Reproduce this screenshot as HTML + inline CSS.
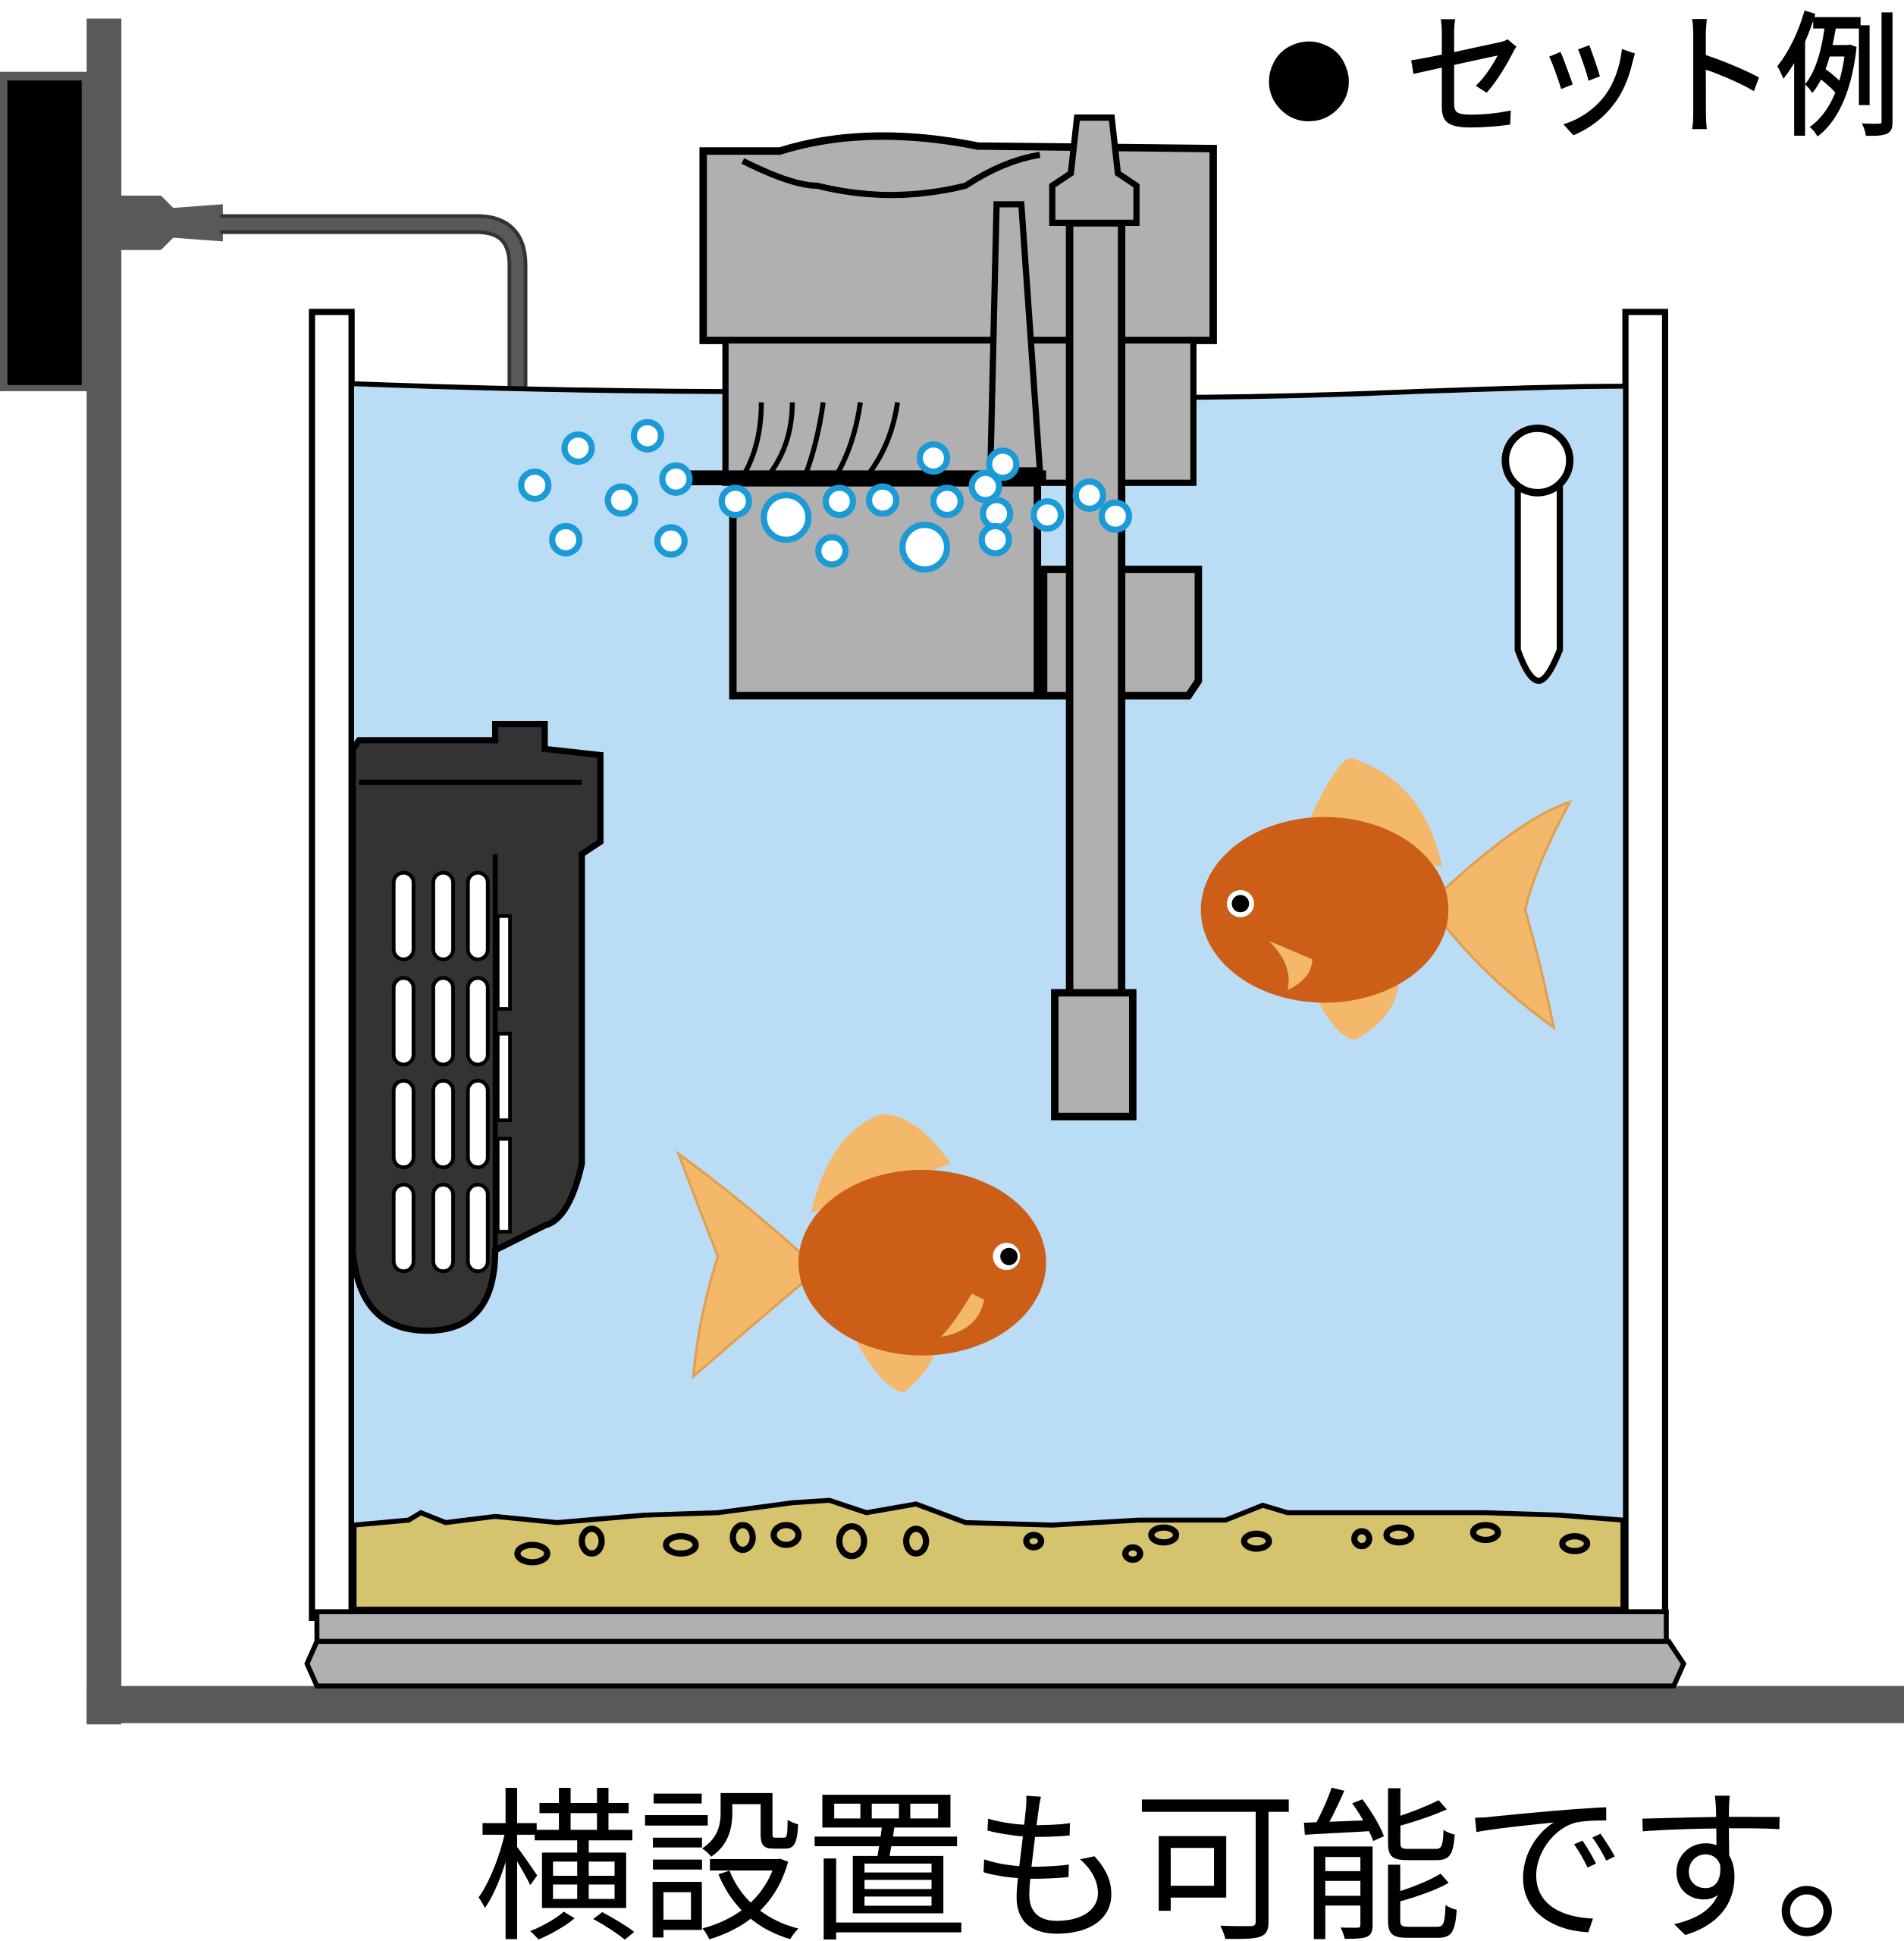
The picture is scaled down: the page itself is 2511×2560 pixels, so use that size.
<!DOCTYPE html>
<html><head><meta charset="utf-8"><style>
html,body{margin:0;padding:0;background:#fff;}
svg{display:block;}
text{font-family:"Liberation Sans","Noto Sans CJK JP",sans-serif;}
</style></head><body>
<svg width="2511" height="2560" viewBox="0 0 1538 1568" xmlns="http://www.w3.org/2000/svg">
<rect width="1538" height="1568" fill="#fff"/>
<rect x="70" y="15" width="28" height="1378" fill="#595959"/>
<rect x="70" y="1362" width="1468" height="30" fill="#595959"/>
<rect x="0" y="58" width="72" height="258" fill="#595959"/>
<rect x="6" y="65" width="60" height="246" fill="#000"/>
<path d="M98 158 L130 158 L140 168 L180 165 L180 195 L140 192 L130 202 L98 202 Z" fill="#595959"/>
<path d="M178 181 L385 181 Q418 181 418 214 L418 590" fill="none" stroke="#333" stroke-width="16"/>
<path d="M178 181 L385 181 Q418 181 418 214 L418 590" fill="none" stroke="#595959" stroke-width="10"/>
<rect x="252" y="252" width="32" height="1055" fill="#fff" stroke="#000" stroke-width="5"/>
<rect x="1313" y="252" width="32" height="1055" fill="#fff" stroke="#000" stroke-width="5"/>
<path d="M286 310 Q500 318 700 316 Q900 325 1100 318 Q1250 312 1311 312 L1311 1300 L286 1300 Z" fill="#bbdcf5"/>
<path d="M286 310 Q500 318 700 316 Q900 325 1100 318 Q1250 312 1311 312" fill="none" stroke="#000" stroke-width="4"/>
<path d="M286 1232 L330 1228 L340 1222 L360 1230 L400 1225 L450 1230 L520 1224 L580 1222 L640 1214 L670 1212 L700 1222 L740 1215 L780 1230 L850 1232 L920 1228 L990 1228 L1020 1216 L1040 1222 L1100 1222 L1200 1222 L1260 1224 L1311 1228 L1311 1300 L286 1300 Z" fill="#d6c36e" stroke="#000" stroke-width="4"/>
<g fill="none" stroke="#000" stroke-width="5">
<ellipse cx="430" cy="1255" rx="12" ry="7"/><ellipse cx="478" cy="1245" rx="8" ry="10"/><ellipse cx="550" cy="1248" rx="12" ry="7"/>
<ellipse cx="600" cy="1242" rx="8" ry="10"/><ellipse cx="635" cy="1240" rx="10" ry="8"/><ellipse cx="688" cy="1245" rx="10" ry="12"/>
<ellipse cx="740" cy="1245" rx="8" ry="10"/><ellipse cx="835" cy="1245" rx="6" ry="5"/><ellipse cx="915" cy="1255" rx="6" ry="5"/>
<ellipse cx="940" cy="1240" rx="10" ry="6"/><ellipse cx="1015" cy="1245" rx="10" ry="6"/><ellipse cx="1130" cy="1240" rx="10" ry="6"/>
<ellipse cx="1200" cy="1238" rx="10" ry="6"/><ellipse cx="1272" cy="1247" rx="10" ry="6"/><ellipse cx="1100" cy="1243" rx="6" ry="6"/>
</g>
<rect x="256" y="1302" width="1090" height="24" fill="#b0b0b0" stroke="#000" stroke-width="4"/>
<path d="M256 1326 L1348 1326 L1360 1344 L1352 1362 L256 1362 L248 1344 Z" fill="#b0b0b0" stroke="#000" stroke-width="4"/>
<path d="M568 122 L630 122 Q700 100 790 118 L980 120 L980 275 L568 275 Z" fill="#b0b0b0" stroke="#000" stroke-width="6"/>
<path d="M600 130 Q640 150 660 150 Q720 165 780 150 Q810 130 840 125" fill="none" stroke="#000" stroke-width="5"/>
<rect x="586" y="275" width="378" height="115" fill="#b0b0b0" stroke="#000" stroke-width="5"/>
<rect x="592" y="390" width="246" height="172" fill="#b0b0b0" stroke="#000" stroke-width="6"/>
<path d="M843 460 L968 460 L968 550 L960 562 L843 562 Z" fill="#b0b0b0" stroke="#000" stroke-width="6"/>
<path d="M805 165 L825 165 L840 380 L800 380 Z" fill="#b0b0b0" stroke="#000" stroke-width="5"/>
<g fill="none" stroke="#000" stroke-width="4">
<path d="M615 325 Q615 360 600 385"/><path d="M640 325 Q640 360 620 385"/><path d="M665 325 Q660 360 650 385"/><path d="M695 325 Q690 360 675 385"/><path d="M725 325 Q720 360 700 385"/>
</g>
<rect x="555" y="380" width="290" height="12" fill="#000"/>
<rect x="864" y="180" width="42" height="622" fill="#b0b0b0" stroke="#000" stroke-width="6"/>
<path d="M870 95 L898 95 L903 140 L918 150 L918 180 L850 180 L850 150 L865 140 Z" fill="#b0b0b0" stroke="#000" stroke-width="5"/>
<rect x="852" y="802" width="63" height="100" fill="#b0b0b0" stroke="#000" stroke-width="6"/>
<path d="M290 598 L400 598 L400 585 L440 585 L440 605 L485 610 L485 680 L470 690 L470 940 Q460 985 440 990 L400 1010 Q400 1075 345 1075 Q290 1075 285 1010 L285 605 Z" fill="#333" stroke="#000" stroke-width="5"/>
<line x1="290" y1="632" x2="470" y2="632" stroke="#000" stroke-width="4"/>
<line x1="400" y1="690" x2="400" y2="1010" stroke="#000" stroke-width="4"/>
<g fill="#fff" stroke="#000" stroke-width="3">
<rect x="318" y="705" width="16" height="70" rx="8"/><rect x="350" y="705" width="16" height="70" rx="8"/><rect x="378" y="705" width="16" height="70" rx="8"/>
<rect x="318" y="790" width="16" height="70" rx="8"/><rect x="350" y="790" width="16" height="70" rx="8"/><rect x="378" y="790" width="16" height="70" rx="8"/>
<rect x="318" y="873" width="16" height="70" rx="8"/><rect x="350" y="873" width="16" height="70" rx="8"/><rect x="378" y="873" width="16" height="70" rx="8"/>
<rect x="318" y="957" width="16" height="70" rx="8"/><rect x="350" y="957" width="16" height="70" rx="8"/><rect x="378" y="957" width="16" height="70" rx="8"/>
<rect x="402" y="740" width="10" height="75"/><rect x="402" y="835" width="10" height="70"/><rect x="402" y="920" width="10" height="75"/>
</g>
<path d="M1226 390 L1260 390 L1260 525 Q1250 550 1243 550 Q1235 550 1226 525 Z" fill="#fff" stroke="#000" stroke-width="5"/>
<circle cx="1242" cy="372" r="26" fill="#fff" stroke="#000" stroke-width="6"/>
<g fill="#fff" stroke="#1a9ad6" stroke-width="5">
<circle cx="432" cy="392" r="11"/><circle cx="467" cy="362" r="11"/><circle cx="523" cy="352" r="11"/><circle cx="502" cy="404" r="11"/>
<circle cx="546" cy="387" r="11"/><circle cx="457" cy="436" r="11"/><circle cx="542" cy="437" r="11"/><circle cx="594" cy="405" r="11"/>
<circle cx="635" cy="418" r="18"/><circle cx="678" cy="405" r="11"/><circle cx="713" cy="404" r="11"/><circle cx="672" cy="445" r="11"/>
<circle cx="754" cy="370" r="11"/><circle cx="765" cy="405" r="11"/><circle cx="747" cy="442" r="18"/><circle cx="810" cy="375" r="11"/>
<circle cx="796" cy="393" r="11"/><circle cx="805" cy="415" r="11"/><circle cx="804" cy="436" r="11"/><circle cx="846" cy="416" r="11"/>
<circle cx="880" cy="400" r="11"/><circle cx="901" cy="417" r="11"/>
</g>
<g>
<path d="M1165 720 Q1230 660 1268 648 Q1240 700 1232 735 Q1245 780 1255 830 Q1200 790 1165 745 Z" fill="#f3b86a" stroke="#e0a050" stroke-width="2"/>
<path d="M1050 680 Q1075 620 1090 612 Q1150 630 1165 700 Z" fill="#f3b86a"/>
<path d="M1060 800 Q1080 840 1095 840 Q1130 820 1130 790 Z" fill="#f3b86a"/>
<ellipse cx="1070" cy="735" rx="100" ry="75" fill="#cc5e17"/>
<circle cx="1002" cy="730" r="11" fill="#fff"/><circle cx="1002" cy="730" r="7" fill="#000"/>
<path d="M1025 760 Q1045 780 1040 800 Q1060 790 1060 775 Z" fill="#f3b86a"/>
</g>
<g>
<path d="M650 1015 Q600 970 548 932 Q570 990 580 1015 Q565 1060 560 1112 Q620 1060 650 1035 Z" fill="#f3b86a" stroke="#e0a050" stroke-width="2"/>
<path d="M655 980 Q670 915 712 900 Q740 900 768 940 Z" fill="#f3b86a"/>
<path d="M690 1080 Q710 1120 730 1125 Q760 1100 755 1080 Z" fill="#f3b86a"/>
<ellipse cx="745" cy="1020" rx="100" ry="75" fill="#cc5e17"/>
<circle cx="813" cy="1015" r="11" fill="#fff"/><circle cx="815" cy="1015" r="7" fill="#000"/>
<path d="M785 1045 Q770 1070 760 1080 Q790 1075 795 1050 Z" fill="#f3b86a"/>
</g>
<text x="1012" y="108" font-size="150">●</text>
<text x="1135" y="100" font-size="108" textLength="400" lengthAdjust="spacingAndGlyphs" stroke="#000" stroke-width="2">セット例</text>
<text x="383" y="1556" font-size="133">横設置も可能です。</text>
</svg>
</body></html>
